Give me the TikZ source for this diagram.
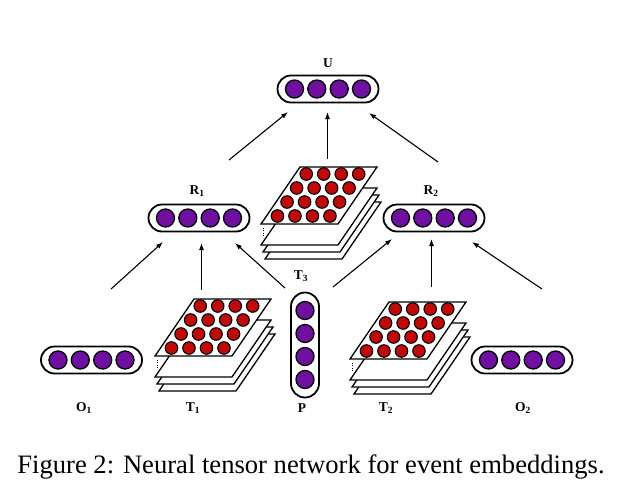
\documentclass[tikz,border=0pt]{standalone}
\usepackage{fontspec}
\setmainfont{Liberation Serif}
\usetikzlibrary{arrows.meta}
\definecolor{vpurple}{RGB}{112,16,160}
\definecolor{tred}{RGB}{192,10,10}
\tikzset{
  capsule/.style={draw, line width=1.8pt, rounded corners=13.5pt, minimum width=101pt, minimum height=27pt, inner sep=0pt},
  vcapsule/.style={draw, line width=1.8pt, rounded corners=14pt, minimum width=28pt, minimum height=105pt, inner sep=0pt},
  unit/.style={circle, draw, fill=vpurple, line width=1.3pt, minimum size=18pt, inner sep=0pt},
  cell/.style={circle, draw, fill=tred, line width=1.1pt, minimum size=12.5pt, inner sep=0pt},
  sheet/.style={draw, fill=white, line width=1.3pt, line join=miter},
  lbl/.style={font=\fontsize{13.5}{15}\selectfont\bfseries, inner sep=0pt},
  conn/.style={line width=1.1pt, -{Latex[length=7pt,width=5pt]}},
  pics/tensor/.style={code={
    \foreach \dx/\dy in {4/35, 2/28, 0/21}{
      \draw[sheet] (\dx,\dy) -- ++(77,0) -- ++(39,-57) -- ++(-77,0) -- cycle;
    }
    \draw[line width=0.9pt, dash pattern=on 1pt off 1.3pt] (2,4) -- (2,12);
    \draw[sheet] (0,0) -- (77,0) -- (116,-57) -- (39,-57) -- cycle;
    \foreach \r in {0,...,3} \foreach \c in {0,...,3} {
      \pgfmathsetmacro\yy{-50+14*\r}
      \pgfmathsetmacro\xx{11+17.5*\c-\yy*39/57}
      \node[cell] (-c\r\c) at (\xx,\yy) {};
    }
  }}
}
\begin{document}
\begin{tikzpicture}[x=1pt, y=-1pt]
\useasboundingbox (0,0) rectangle (624,496);

% horizontal capsules
\foreach \nm/\px/\py in {U/328/89, R1/199/218, R2/434/218, O1/91.5/360, O2/522/360}{
  \node[capsule] (\nm) at (\px,\py) {};
  \foreach \off [count=\k] in {-33.5,-11.2,11.2,33.5}
    \node[unit] (\nm-u\k) at ([xshift=\off pt]\nm.center) {};
}
% vertical capsule P
\node[vcapsule] (P) at (305,345) {};
\foreach \off [count=\k] in {-34.5,-11.5,11.5,34.5}
  \node[unit] (P-u\k) at ([yshift=-\off pt]P.center) {};

% tensors
\pic (T1) at (155,356) {tensor};
\pic (T2) at (350,359) {tensor};
\pic (T3) at (261,224) {tensor};

% labels
\node[lbl] (lU)  at (328,63) {U};
\node[lbl] (lR1) at (197,191) {R\textsubscript{1}};
\node[lbl] (lR2) at (431,191) {R\textsubscript{2}};
\node[lbl] (lT3) at (301,276) {T\textsubscript{3}};
\node[lbl] (lO1) at (84,408) {O\textsubscript{1}};
\node[lbl] (lT1) at (193,408) {T\textsubscript{1}};
\node[lbl] (lP)  at (302,408) {P};
\node[lbl] (lT2) at (386,408) {T\textsubscript{2}};
\node[lbl] (lO2) at (523,408) {O\textsubscript{2}};

% connector end points
\coordinate (r1u) at (229,160);  \coordinate (u1) at (288,112);
\coordinate (t3u) at (327.5,159);  \coordinate (u2) at (327.5,112);
\coordinate (r2u) at (438,162);  \coordinate (u3) at (369,113);
\coordinate (o1r) at (111,289);  \coordinate (r1a) at (163,242);
\coordinate (t1r) at (201.5,290);  \coordinate (r1b) at (201.5,243);
\coordinate (p1r) at (285,288);  \coordinate (r1c) at (235,243);
\coordinate (p2r) at (333,287);  \coordinate (r2a) at (392,239);
\coordinate (t2r) at (431.5,287);  \coordinate (r2b) at (431.5,239);
\coordinate (o2r) at (542,289);  \coordinate (r2c) at (472,242);

\draw[conn] (r1u) -- (u1);
\draw[conn] (t3u) -- (u2);
\draw[conn] (r2u) -- (u3);
\draw[conn] (o1r) -- (r1a);
\draw[conn] (t1r) -- (r1b);
\draw[conn] (p1r) -- (r1c);
\draw[conn] (p2r) -- (r2a);
\draw[conn] (t2r) -- (r2b);
\draw[conn] (o2r) -- (r2c);

% caption
\node[font=\fontsize{26.6}{30}\selectfont, anchor=base, inner sep=0pt] (cap) at (311,473)
  {Figure 2: Neural tensor network for event embeddings.};
\end{tikzpicture}
\end{document}
